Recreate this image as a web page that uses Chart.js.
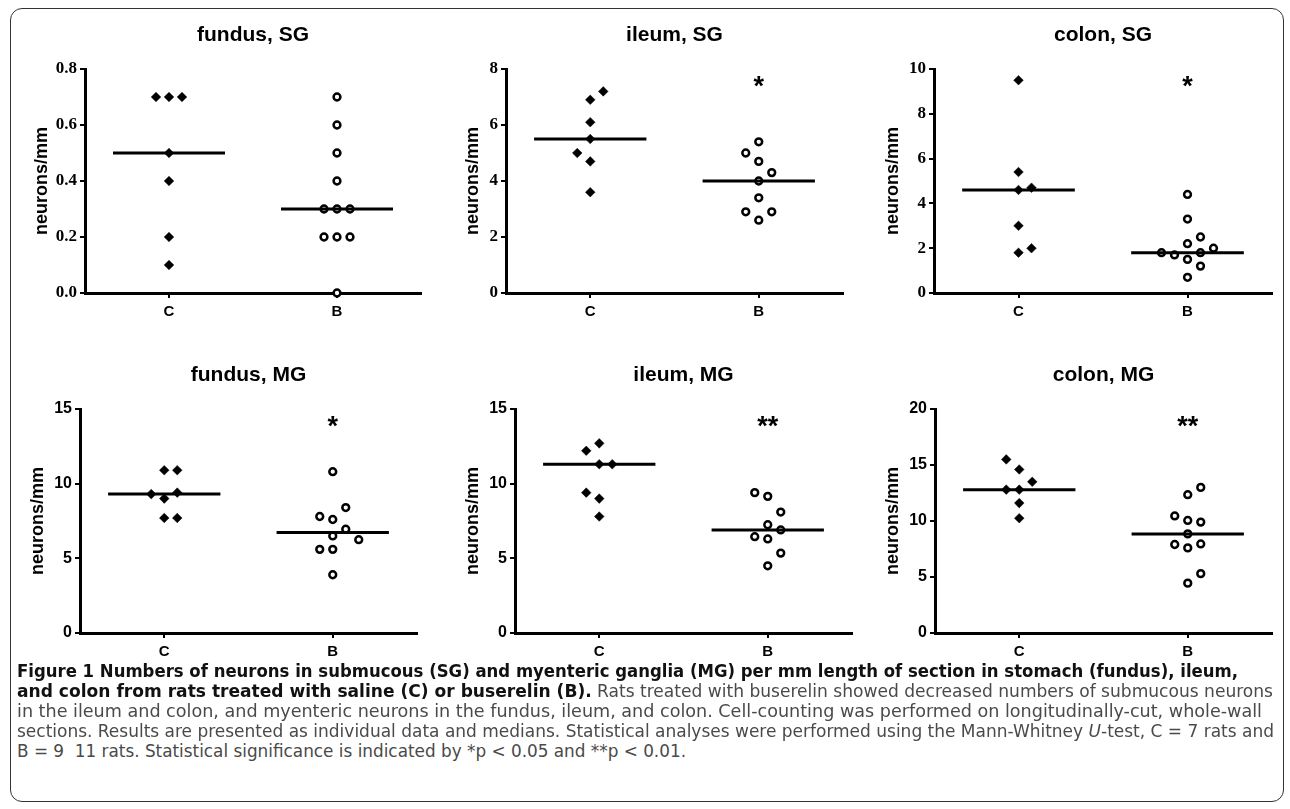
<!DOCTYPE html>
<html><head><meta charset="utf-8">
<script src="https://cdn.jsdelivr.net/npm/chart.js@4.4.1/dist/chart.umd.min.js"></script>
<style>
html,body{margin:0;padding:0;background:#fff;width:1290px;height:809px;overflow:hidden;position:relative;}
#frame{position:absolute;left:10px;top:8px;width:1274px;height:794px;border:1.5px solid #333;border-radius:12px;box-sizing:border-box;}
canvas{position:absolute;}
.cap{position:absolute;left:17px;white-space:pre;font-family:'Liberation Sans Narrow','DejaVu Sans Condensed','Arial Narrow',sans-serif;font-size:17px;line-height:20px;color:#4a4a4a;transform-origin:0 0;}
.cap b{color:#111;}
</style></head><body>
<div id="frame"></div>
<div id="charts"></div>
<div id="caption"></div>
<script>
// ---------- data ----------
const groupLabels = ['C', 'B'];
const panelTitles = ['fundus, SG', 'ileum, SG', 'colon, SG', 'fundus, MG', 'ileum, MG', 'colon, MG'];
const fundusSG_C = [0.7, 0.7, 0.7, 0.5, 0.4, 0.2, 0.1];
const fundusSG_B = [0.7, 0.6, 0.5, 0.4, 0.3, 0.3, 0.3, 0.2, 0.2, 0.2, 0.0];
const ileumSG_C = [6.9, 7.2, 4.7, 5.5, 5.0, 6.1, 3.6];
const ileumSG_B = [5.4, 4.7, 4.0, 3.4, 2.6, 4.3, 5.0, 2.9, 2.9];
const colonSG_C = [9.5, 5.4, 4.6, 4.7, 1.8, 2.0, 3.0];
const colonSG_B = [4.4, 3.3, 2.2, 1.5, 0.7, 2.5, 1.7, 1.8, 1.8, 1.2, 2.0];
const fundusMG_C = [10.9, 10.9, 9.0, 9.4, 7.7, 7.7, 9.3];
const fundusMG_B = [10.8, 7.6, 6.5, 5.6, 3.9, 8.4, 7.8, 6.95, 5.6, 6.25];
const ileumMG_C = [12.7, 11.3, 9.0, 7.8, 12.2, 11.3, 9.4];
const ileumMG_B = [9.15, 7.25, 6.3, 4.5, 9.4, 8.1, 6.45, 5.35, 6.9];
const colonMG_C = [14.6, 12.8, 11.6, 10.25, 15.5, 13.5, 12.8];
const colonMG_B = [12.35, 10.05, 8.85, 7.6, 4.45, 5.3, 10.45, 13.0, 7.9, 9.9, 7.95];
const yMaxes = [0.8, 8, 10, 15, 15, 20];
const yStepSizes = [0.2, 2, 2, 5, 5, 5];
const yDecimals = [1, 0, 0, 0, 0, 0];
const significance = ['', '*', '*', '*', '**', '**'];
const yAxisTitle = 'neurons/mm';

// ---------- layout / style ----------
const panelValues = [
  [fundusSG_C, fundusSG_B], [ileumSG_C, ileumSG_B], [colonSG_C, colonSG_B],
  [fundusMG_C, fundusMG_B], [ileumMG_C, ileumMG_B], [colonMG_C, colonMG_B]
];
const plotRects = [
  [85, 69, 421, 293], [506, 69, 843, 293], [934, 69, 1272, 293],
  [80, 409, 417, 633], [515, 409, 852, 633], [935, 409, 1272, 633]
];
const yTitleGaps = [43, 33, 41, 42, 42, 42];
const SLOT_PX = 13;        // horizontal spread of overlapping points
const COLLIDE_PX = 13;     // vertical distance below which points overlap
const MEDIAN_HALF = 1 / 3; // half width of the median bar (category units)

function median(vals) {
  const s = vals.slice().sort((a, b) => a - b);
  const n = s.length;
  return n % 2 ? s[(n - 1) / 2] : (s[n / 2 - 1] + s[n / 2]) / 2;
}
// simple column-scatter layout: overlapping points move sideways
function slots(vals, pxPerUnit) {
  const placed = [];
  return vals.map((v, i) => {
    const px = v * pxPerUnit;
    const p = i % 2 === 0 ? -1 : 1;
    for (const s of [0, p, -p, 2 * p, -2 * p, 3 * p, -3 * p]) {
      if (!placed.some(q => q.s === s && Math.abs(q.px - px) < COLLIDE_PX)) {
        placed.push({ s, px });
        return s;
      }
    }
    return 0;
  });
}

const decor = {
  id: 'decor',
  afterDraw(chart, args, o) {
    const { ctx, chartArea: a } = chart;
    ctx.save();
    ctx.fillStyle = '#000';
    ctx.textAlign = 'center';
    ctx.textBaseline = 'middle';
    ctx.font = 'bold 21px "Liberation Sans", Arial, sans-serif';
    ctx.fillText(o.title, (a.left + a.right) / 2, a.top - 34);
    ctx.save();
    ctx.translate(a.left - o.gap, (a.top + a.bottom) / 2);
    ctx.rotate(-Math.PI / 2);
    ctx.font = 'bold 18px "Liberation Sans", Arial, sans-serif';
    ctx.fillText(yAxisTitle, 0, 0);
    ctx.restore();
    if (o.sig) {
      const fs = 27;
      ctx.font = 'bold ' + fs + 'px "Liberation Sans", Arial, sans-serif';
      ctx.textBaseline = 'alphabetic';
      ctx.fillText(o.sig, chart.scales.x.getPixelForValue(2), a.top + 14 + 0.46 * fs);
    }
    ctx.restore();
  }
};

const holder = document.getElementById('charts');
panelValues.forEach((vals, i) => {
  const [L, T, R, B] = plotRects[i];
  const padL = 80, padT = 60, padR = 12, padB = 40;
  const w = R - L + padL + padR, h = B - T + padT + padB;
  const cv = document.createElement('canvas');
  cv.style.left = (L - padL) + 'px';
  cv.style.top = (T - padT) + 'px';
  cv.style.width = w + 'px';
  cv.style.height = h + 'px';
  cv.width = w; cv.height = h;
  holder.appendChild(cv);

  const pxPerUnit = (B - T) / yMaxes[i];
  const catPx = (R - L) / 2;
  const slotStep = SLOT_PX / catPx;
  const pts = (g) => {
    const sl = slots(vals[g], pxPerUnit);
    return vals[g].map((v, k) => ({ x: g + 1 + sl[k] * slotStep, y: v }));
  };
  const med = (g) => {
    const m = median(vals[g]);
    return [{ x: g + 1 - MEDIAN_HALF, y: m }, { x: g + 1 + MEDIAN_HALF, y: m }];
  };
  const axisCommon = {
    grid: { display: true, drawOnChartArea: false, drawTicks: true, tickLength: 5, color: '#000', lineWidth: 2 },
    border: { display: true, color: '#000', width: 3 }
  };
  new Chart(cv, {
    type: 'scatter',
    data: {
      datasets: [
        { label: 'C median', data: med(0), showLine: true, borderColor: '#000', borderWidth: 3, pointRadius: 0, order: 0, clip: false },
        { label: 'B median', data: med(1), showLine: true, borderColor: '#000', borderWidth: 3, pointRadius: 0, order: 0, clip: false },
        { label: 'C', data: pts(0), pointStyle: 'rectRot', pointRadius: 4.8, backgroundColor: '#000', borderColor: '#000', borderWidth: 0.5, order: 1, clip: false },
        { label: 'B', data: pts(1), pointStyle: 'circle', pointRadius: 3.4, backgroundColor: '#fff', borderColor: '#000', borderWidth: 2.5, order: 1, clip: false }
      ]
    },
    options: {
      responsive: false, animation: false, events: [],
      layout: { padding: { left: 0, top: padT, right: padR, bottom: 0 } },
      plugins: {
        legend: { display: false }, tooltip: { enabled: false },
        decor: { title: panelTitles[i], gap: yTitleGaps[i], sig: significance[i] }
      },
      scales: {
        x: Object.assign({
          type: 'linear', min: 0.5, max: 2.5,
          afterBuildTicks: s => { s.ticks = [{ value: 1 }, { value: 2 }]; },
          afterFit: s => { s.height = padB; },
          ticks: { callback: v => groupLabels[Math.round(v) - 1], color: '#000', padding: 5, maxRotation: 0, autoSkip: false,
                   font: { family: '"Liberation Sans", Arial, sans-serif', size: 15, weight: 'bold' } }
        }, axisCommon),
        y: Object.assign({
          min: 0, max: yMaxes[i],
          afterFit: s => { s.width = padL; },
          ticks: { stepSize: yStepSizes[i], callback: v => Number(v).toFixed(yDecimals[i]), color: '#000', padding: 3,
                   font: i < 3 ? { family: '"Liberation Serif", serif', size: 17, weight: 'bold' } : { family: '"Liberation Sans", Arial, sans-serif', size: 16, weight: 'bold' } }
        }, axisCommon)
      }
    },
    plugins: [decor]
  });
});

// ---------- caption ----------
const captionLines = [
  ['<b>Figure 1 Numbers of neurons in submucous (SG) and myenteric ganglia (MG) per mm length of section in stomach (fundus), ileum,</b>', 1238, 671],
  ['<b>and colon from rats treated with saline (C) or buserelin (B).</b> Rats treated with buserelin showed decreased numbers of submucous neurons', 1273, 691],
  ['in the ileum and colon, and myenteric neurons in the fundus, ileum, and colon. Cell-counting was performed on longitudinally-cut, whole-wall', 1262, 711],
  ['sections. Results are presented as individual data and medians. Statistical analyses were performed using the Mann-Whitney <i>U</i>-test, C = 7 rats and', 1274, 731],
  ['B = 9  11 rats. Statistical significance is indicated by *p &lt; 0.05 and **p &lt; 0.01.', 686, 751]
];
const cap = document.getElementById('caption');
captionLines.forEach(([html, right, cy]) => {
  const d = document.createElement('div');
  d.className = 'cap';
  d.innerHTML = html;
  d.style.top = (cy - 10) + 'px';
  cap.appendChild(d);
  const nat = d.getBoundingClientRect().width;
  d.style.transform = 'scaleX(' + ((right - 17) / nat) + ')';
});
</script>
</body></html>
